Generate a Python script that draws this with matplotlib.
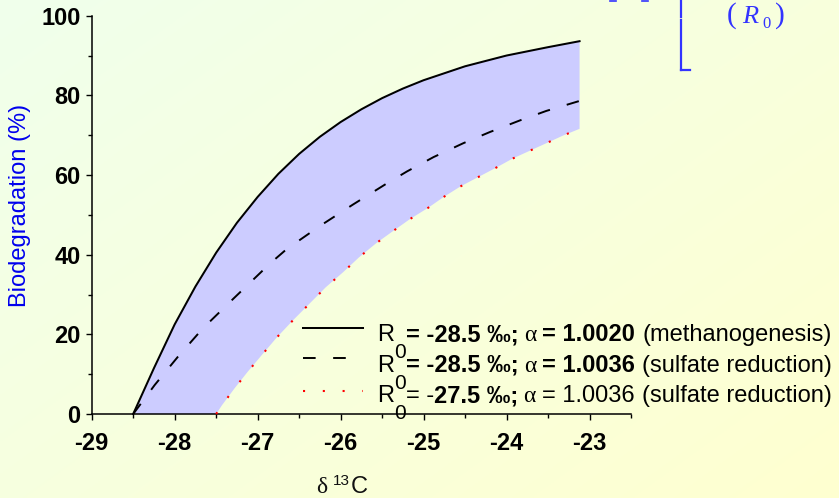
import numpy as np
import matplotlib
matplotlib.use("Agg")
import matplotlib.pyplot as plt
from matplotlib.ticker import MultipleLocator

# Rayleigh biodegradation curves: delta13C (per mil) vs. biodegradation (%)
# R0 = -28.5 per mil, alpha = 1.0020 (methanogenesis)
meth_d13c = [-28.5, -28.25, -28.0, -27.75, -27.5, -27.25, -27.0, -26.75, -26.5,
             -26.25, -26.0, -25.75, -25.5, -25.25, -25.0, -24.5, -24.0, -23.5, -23.12]
meth_bio = [0, 11.5, 22.5, 32.0, 40.5, 48.0, 54.5, 60.3, 65.3,
            69.6, 73.3, 76.5, 79.3, 81.7, 83.8, 87.3, 90.0, 92.1, 93.6]

# R0 = -28.5 per mil, alpha = 1.0036 (sulfate reduction)
sulf_d13c = [-28.5, -28.24, -27.96, -27.66, -27.29, -26.85, -26.65, -26.25, -25.85,
             -25.45, -25.2, -24.88, -24.52, -24.2, -23.84, -23.52, -23.12]
sulf_bio = [0, 7.3, 14.4, 21.5, 29.0, 37.8, 41.4, 47.2, 52.6,
            57.8, 60.9, 64.5, 68.0, 70.8, 73.7, 76.1, 78.6]

# R0 = -27.5 per mil, alpha = 1.0036 (sulfate reduction)
sulf2_d13c = [-27.5, -27.43, -27.28, -27.12, -26.95, -26.77, -26.58, -26.38, -26.18,
              -25.97, -25.78, -25.57, -25.37, -25.16, -24.95, -24.75, -24.55, -24.34,
              -24.13, -23.93, -23.73, -23.53, -23.32, -23.12]
sulf2_bio = [0, 2.2, 6.4, 10.6, 14.8, 19.2, 23.4, 27.6, 31.8,
             35.6, 39.3, 42.9, 45.9, 49.0, 51.7, 54.6, 57.2, 59.5,
             61.8, 64.1, 66.0, 67.9, 69.9, 71.6]

x_ticks = [-29, -28, -27, -26, -25, -24, -23]
y_ticks = [0, 20, 40, 60, 80, 100]

SANS = "Liberation Sans"
SERIF = "Liberation Serif"
FS = 17

W, H = 839, 498
fig = plt.figure(figsize=(W / 100, H / 100), dpi=100)

# soft diagonal background gradient (mint -> pale yellow)
bg = fig.add_axes([0, 0, 1, 1], zorder=-10)
yy, xx = np.mgrid[0:1:200j, 0:1:300j]
t = (0.55 * xx + 0.45 * yy)[..., None]
c0 = np.array([240, 255, 236]) / 255
c1 = np.array([255, 255, 208]) / 255
bg.imshow(c0 * (1 - t) + c1 * t, extent=[0, 1, 0, 1], aspect="auto", origin="upper")
bg.axis("off")

# main plot
x0, x1, y0, y1 = 91.7, 631.0, 414.0, 15.7
ax = fig.add_axes([x0 / W, 1 - y0 / H, (x1 - x0) / W, (y0 - y1) / H])
ax.patch.set_alpha(0)

fill_x = meth_d13c + sulf2_d13c[::-1]
fill_y = meth_bio + sulf2_bio[::-1]
ax.fill(fill_x, fill_y, color="#CCCCFF", lw=0, zorder=1)

ax.plot(meth_d13c, meth_bio, color="black", lw=1.45, zorder=3, clip_on=False)
ax.plot(sulf_d13c, sulf_bio, color="black", lw=1.4, dashes=(6.5, 9.0),
        zorder=3, clip_on=False)
ax.plot(sulf2_d13c, sulf2_bio, color="red", lw=1.5, dashes=(1, 8.5),
        zorder=3, clip_on=False)

ax.set_xlim(-29, -22.5)
ax.set_ylim(0, 100)
ax.set_xticks(x_ticks)
ax.set_xticklabels([str(v) for v in x_ticks])
ax.set_yticks(y_ticks)
ax.set_yticklabels([str(v) for v in y_ticks])
ax.xaxis.set_minor_locator(MultipleLocator(0.5))
ax.yaxis.set_minor_locator(MultipleLocator(10))
for lab in ax.get_xticklabels() + ax.get_yticklabels():
    lab.set_fontfamily(SANS)
    lab.set_fontweight("bold")
    lab.set_fontsize(FS)
ax.tick_params(which="major", direction="out", length=4.6, width=1.0, color="black")
ax.tick_params(which="minor", direction="out", length=2.8, width=1.0, color="black")
ax.tick_params(axis="x", which="major", pad=8.0)
ax.tick_params(axis="y", which="major", pad=3.5)
for side in ("top", "right"):
    ax.spines[side].set_visible(False)
for side in ("left", "bottom"):
    ax.spines[side].set_linewidth(1.1)

# overlay in pixel units for labels, legend and the formula fragment
ov = fig.add_axes([0, 0, 1, 1], zorder=10)
ov.set_xlim(0, W)
ov.set_ylim(H, 0)
ov.axis("off")
renderer = fig.canvas.get_renderer()


def runs(x, y, items, color="black"):
    """Draw text pieces one after another along a baseline."""
    for item in items:
        if isinstance(item, (int, float)):
            x += item
            continue
        txt, kw = item
        dy = kw.pop("dy", 0)
        txt_obj = ov.text(x, y + dy, txt, ha="left", va="baseline", color=color, **kw)
        x += txt_obj.get_window_extent(renderer).width


reg = dict(family=SANS, fontsize=FS)
bold = dict(family=SANS, fontsize=FS, weight="bold")
greek = dict(family=SERIF, fontsize=FS)
sub = dict(family=SANS, fontsize=15, dy=17)

rows = [
    [("R", dict(reg)), ("0", dict(sub)), 0.5, ("= -28.5 ‰;", dict(bold)), 5,
     ("α", dict(greek)), 6, ("= 1.0020", dict(bold)), 7, ("(methanogenesis)", dict(reg))],
    [("R", dict(reg)), ("0", dict(sub)), 0.5, ("= -28.5 ‰;", dict(bold)), 5,
     ("α", dict(greek)), 6, ("= 1.0036", dict(bold)), 7, ("(sulfate reduction)", dict(reg))],
    [("R", dict(reg)), ("0", dict(sub)), 0.5, ("= -", dict(reg)), 0, ("27.5 ‰;", dict(bold)), 5,
     ("α", dict(greek)), 6, ("= 1.0036", dict(reg)), 7, ("(sulfate reduction)", dict(reg))],
]
baselines = [341, 371.5, 402]
for items, yb in zip(rows, baselines):
    runs(377, yb, items)

ov.plot([303, 363], [328, 328], color="black", lw=1.45)
ov.plot([303, 363], [358, 358], color="black", lw=1.4, dashes=(6.5, 9.0))
ov.plot([303, 363], [391, 391], color="red", lw=1.5, dashes=(1, 8.5))

# axis titles
ov.text(20, 205, "Biodegradation (%)", rotation=90, ha="center", va="center",
        color="#0000EE", family=SANS, fontsize=FS)
runs(316, 493, [("δ", dict(family=SERIF, fontsize=17)), 6,
                ("13", dict(family=SANS, fontsize=11, dy=-8)), 1,
                ("C", dict(family=SANS, fontsize=17))], color="#111111")

# formula fragment in the corner
blue = "#3333FF"
ov.plot([681, 681], [0, 17], color=blue, lw=1.6)
ov.plot([681, 681], [19.5, 70], color=blue, lw=1.6)
ov.plot([681, 690], [70, 70], color=blue, lw=1.6)
ov.plot([610, 616], [1, 1], color=blue, lw=1.2)
ov.plot([642, 648], [1, 1], color=blue, lw=1.2)
ov.text(727, 28.5, "(", family=SERIF, fontsize=21, color=blue, ha="left", va="bottom")
ov.text(742, 23, "R", family=SERIF, style="italic", fontsize=19, color=blue,
        ha="left", va="baseline")
ov.text(762, 28, "0", family=SERIF, fontsize=12, color=blue, ha="left", va="baseline")
ov.text(775, 28.5, ")", family=SERIF, fontsize=21, color=blue, ha="left", va="bottom")

fig.savefig("out.png", dpi=100)
